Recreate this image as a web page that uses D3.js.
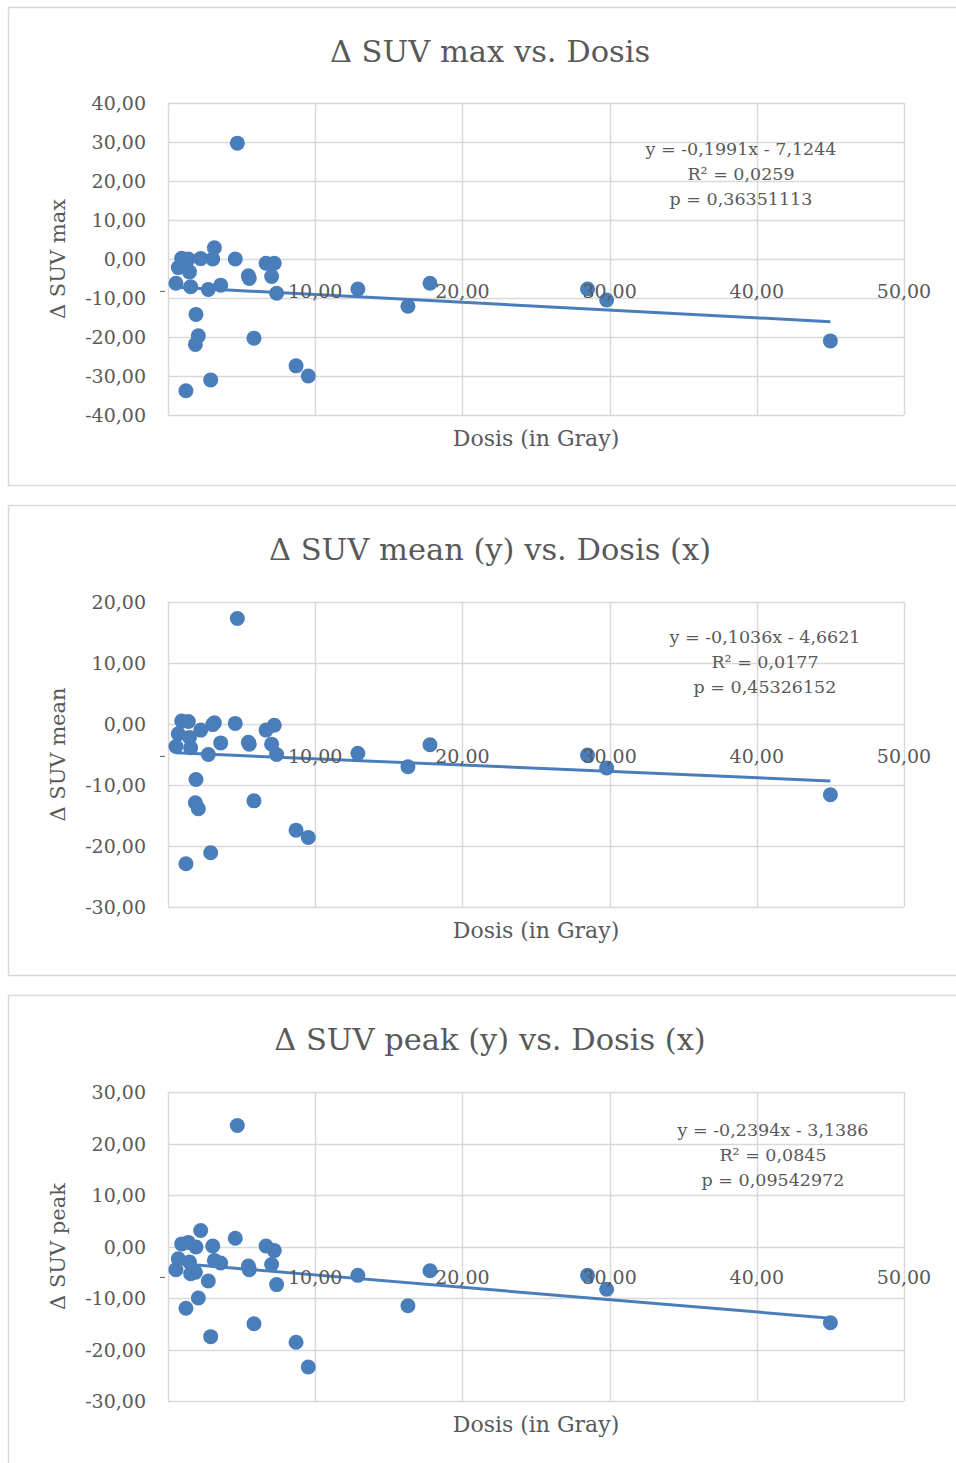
<!DOCTYPE html>
<html>
<head>
<meta charset="utf-8">
<script src="https://cdn.jsdelivr.net/npm/d3@7"></script>
<style>
  html, body { margin: 0; padding: 0; background: #ffffff; }
  svg { display: block; }
  text { font-family: "DejaVu Serif", "Liberation Serif", serif; fill: #595959; }
</style>
</head>
<body>
<svg id="chart" width="956" height="1463"></svg>
<script>
// Dose per lesion (Gray) and change in SUV for each lesion
const dose = [0.54, 0.70, 0.93, 1.22, 1.38, 1.46, 1.54, 1.86, 1.90, 2.06, 2.22, 2.74, 2.90, 3.04, 3.15, 3.58,
  4.57, 4.71, 5.46, 5.52, 5.84, 6.66, 7.04, 7.22, 7.38, 8.70, 9.53, 12.9, 16.3, 17.8, 28.5, 29.8, 45.0];
const dSuvMax = [-6.2, -2.2, 0.2, -33.8, 0.0, -3.3, -7.1, -21.9, -14.2, -19.7, 0.1, -7.8, -31.0, 0.0, 2.9, -6.7,
  0.0, 29.7, -4.3, -5.0, -20.3, -1.1, -4.5, -1.1, -8.8, -27.4, -30.0, -7.7, -12.1, -6.2, -7.7, -10.5, -21.0];
const dSuvMean = [-3.7, -1.6, 0.5, -22.9, 0.4, -2.2, -3.9, -12.9, -9.1, -13.9, -1.0, -5.0, -21.1, -0.1, 0.2, -3.1,
  0.1, 17.3, -3.0, -3.3, -12.6, -1.0, -3.3, -0.2, -5.0, -17.4, -18.6, -4.8, -7.0, -3.4, -5.1, -7.2, -11.6];
const dSuvPeak = [-4.5, -2.4, 0.5, -12.0, 0.8, -3.0, -5.3, -5.0, -0.1, -10.0, 3.1, -6.7, -17.5, 0.1, -2.7, -3.2,
  1.6, 23.5, -3.8, -4.5, -15.0, 0.1, -3.5, -0.8, -7.4, -18.6, -23.4, -5.6, -11.5, -4.7, -5.6, -8.3, -14.8];

// Linear fits (slope, intercept) and their statistics
const fitMax = [-0.1991, -7.1244];
const fitMean = [-0.1036, -4.6621];
const fitPeak = [-0.2394, -3.1386];
const fitLabelsMax = ["y = -0,1991x - 7,1244", "R² = 0,0259", "p = 0,36351113"];
const fitLabelsMean = ["y = -0,1036x - 4,6621", "R² = 0,0177", "p = 0,45326152"];
const fitLabelsPeak = ["y = -0,2394x - 3,1386", "R² = 0,0845", "p = 0,09542972"];

// Axis ticks
const xTicks = [10, 20, 30, 40, 50];
const yTicksMax = [-40, -30, -20, -10, 0, 10, 20, 30, 40];
const yTicksMean = [-30, -20, -10, 0, 10, 20];
const yTicksPeak = [-30, -20, -10, 0, 10, 20, 30];

const titles = ["Δ SUV max vs. Dosis", "Δ SUV mean (y) vs. Dosis (x)", "Δ SUV peak (y) vs. Dosis (x)"];
const yTitles = ["Δ SUV max", "Δ SUV mean", "Δ SUV peak"];
const xTitle = "Dosis (in Gray)";

// two decimals, decimal comma, plain hyphen as minus
const fmt = v => v.toFixed(2).replace(".", ",");

const panels = [
  { values: dSuvMax, fit: fitMax, fitText: fitLabelsMax, yTicks: yTicksMax,
    frame: [7, 485], plot: [103, 415], xLabelAt: -8.3, fitX: 741, fitY: 149 },
  { values: dSuvMean, fit: fitMean, fitText: fitLabelsMean, yTicks: yTicksMean,
    frame: [505, 975], plot: [602, 907], xLabelAt: -5.3, fitX: 765, fitY: 637 },
  { values: dSuvPeak, fit: fitPeak, fitText: fitLabelsPeak, yTicks: yTicksPeak,
    frame: [995, 1475], plot: [1092, 1401], xLabelAt: -6.0, fitX: 773, fitY: 1130 }
];

const svg = d3.select("#chart");
const blue = "#4a7ebb";
const grid = "#d9d9d9";
const plotLeft = 168, plotRight = 904;

panels.forEach((p, i) => {
  const g = svg.append("g");

  // chart frame
  g.append("rect")
    .attr("x", 8.5).attr("y", p.frame[0] + 0.5)
    .attr("width", 980).attr("height", p.frame[1] - p.frame[0])
    .attr("fill", "#fff").attr("stroke", grid).attr("stroke-width", 1.5);

  const x = d3.scaleLinear().domain([0, 50]).range([plotLeft, plotRight]);
  const y = d3.scaleLinear().domain(d3.extent(p.yTicks)).range([p.plot[1], p.plot[0]]);

  // horizontal gridlines
  g.append("g").selectAll("line").data(p.yTicks).join("line")
    .attr("x1", plotLeft).attr("x2", plotRight)
    .attr("y1", d => Math.round(y(d)) + 0.5).attr("y2", d => Math.round(y(d)) + 0.5)
    .attr("stroke", grid).attr("stroke-width", 1.5);

  // vertical gridlines (including the value axis at 0)
  g.append("g").selectAll("line").data([0].concat(xTicks)).join("line")
    .attr("x1", d => Math.round(x(d)) + 0.5).attr("x2", d => Math.round(x(d)) + 0.5)
    .attr("y1", p.plot[0]).attr("y2", p.plot[1])
    .attr("stroke", grid).attr("stroke-width", 1.5);

  // y tick labels
  g.append("g").selectAll("text").data(p.yTicks).join("text")
    .attr("x", 146).attr("y", d => y(d))
    .attr("text-anchor", "end").attr("dominant-baseline", "central")
    .style("font-size", "19px")
    .text(fmt);

  // tick where the horizontal axis crosses
  const yl = y(p.xLabelAt);
  g.append("line").attr("x1", 160).attr("x2", 165).attr("y1", yl).attr("y2", yl)
    .attr("stroke", "#595959").attr("stroke-width", 1);

  // points
  g.append("g").selectAll("circle").data(dose.map((d, k) => [d, p.values[k]])).join("circle")
    .attr("cx", d => x(d[0])).attr("cy", d => y(d[1]))
    .attr("r", 7.5).attr("fill", blue);

  // trendline over the data range
  const xr = d3.extent(dose);
  g.append("line")
    .attr("x1", x(xr[0])).attr("y1", y(p.fit[0] * xr[0] + p.fit[1]))
    .attr("x2", x(xr[1])).attr("y2", y(p.fit[0] * xr[1] + p.fit[1]))
    .attr("stroke", blue).attr("stroke-width", 3);

  // x tick labels along the axis crossing
  g.append("g").selectAll("text").data(xTicks).join("text")
    .attr("x", d => x(d)).attr("y", yl)
    .attr("text-anchor", "middle").attr("dominant-baseline", "central")
    .style("font-size", "19px")
    .text(fmt);

  // fit equation and statistics
  g.append("g").selectAll("text").data(p.fitText).join("text")
    .attr("x", p.fitX).attr("y", (d, k) => p.fitY + k * 25)
    .attr("text-anchor", "middle").attr("dominant-baseline", "central")
    .style("font-size", "17.5px")
    .text(d => d);

  // titles
  g.append("text")
    .attr("x", 490).attr("y", (p.frame[0] + 44))
    .attr("text-anchor", "middle").attr("dominant-baseline", "central")
    .style("font-size", "30.5px")
    .text(titles[i]);

  g.append("text")
    .attr("transform", `translate(58,${(p.plot[0] + p.plot[1]) / 2}) rotate(-90)`)
    .attr("text-anchor", "middle").attr("dominant-baseline", "central")
    .style("font-size", "21px")
    .text(yTitles[i]);

  g.append("text")
    .attr("x", (plotLeft + plotRight) / 2).attr("y", p.plot[1] + 23)
    .attr("text-anchor", "middle").attr("dominant-baseline", "central")
    .style("font-size", "22px")
    .text(xTitle);
});
</script>
</body>
</html>
